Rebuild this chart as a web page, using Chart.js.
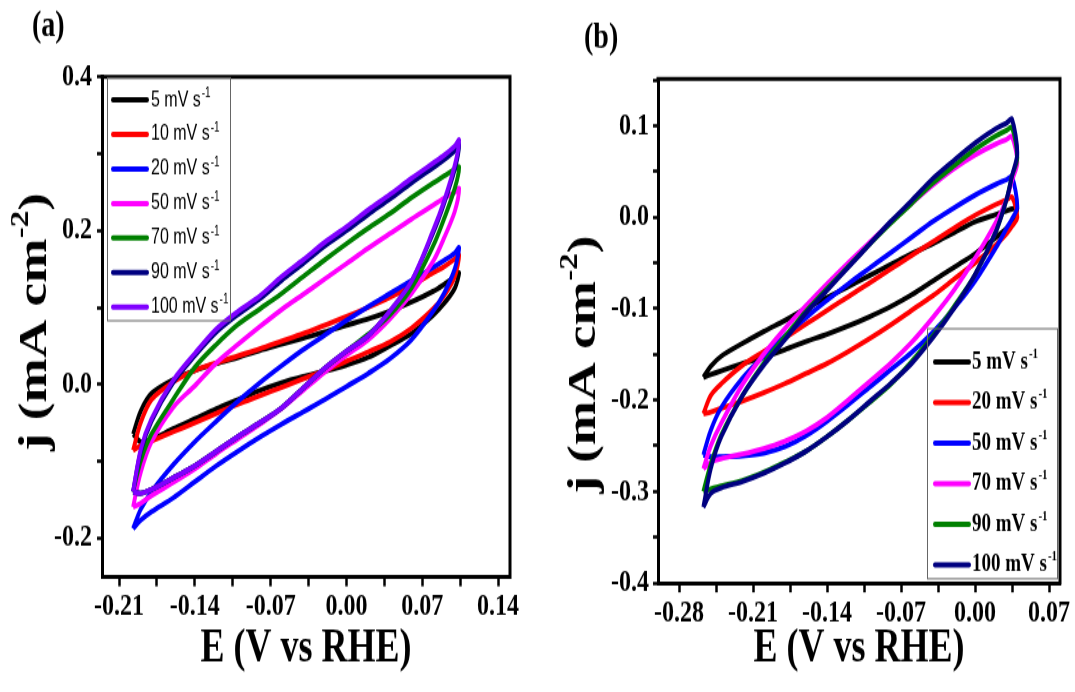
<!DOCTYPE html>
<html><head><meta charset="utf-8">
<script src="https://cdn.jsdelivr.net/npm/chart.js@4.4.0/dist/chart.umd.min.js"></script>
<style>
html,body{margin:0;padding:0;background:#fff;}
#wrap{position:relative;width:1075px;height:692px;overflow:hidden;background:#fff;}
.panel{position:absolute;top:0;transform-origin:0 0;transform:scaleY(1.330769);}
canvas{display:block;}
</style></head><body>
<div id="wrap">
<div class="panel" style="left:0;width:540px;height:520px;"><canvas id="ca" width="540" height="520"></canvas></div>
<div class="panel" style="left:540px;width:535px;height:520px;"><canvas id="cb" width="535" height="520"></canvas></div>
</div>
<script>
// ---------- Panel (a) data ----------
const E_A = [-0.197,-0.19,-0.18,-0.16,-0.14,-0.12,-0.10,-0.08,-0.06,-0.04,-0.02,0,0.02,0.04,0.06,0.08,0.09,0.10,0.104];
const ratesA = [5,10,20,50,70,90,100];
const a5_up  = [-0.065,-0.035,-0.012,0.006,0.018,0.027,0.035,0.044,0.052,0.060,0.068,0.077,0.085,0.095,0.107,0.121,0.130,0.140,0.145];
const a5_dn  = [-0.065,-0.075,-0.072,-0.058,-0.045,-0.032,-0.020,-0.008,0.002,0.010,0.017,0.025,0.035,0.050,0.066,0.090,0.105,0.125,0.145];
const a10_up = [-0.086,-0.050,-0.020,0.003,0.018,0.028,0.037,0.046,0.056,0.066,0.077,0.088,0.100,0.113,0.128,0.145,0.153,0.163,0.168];
const a10_dn = [-0.086,-0.080,-0.074,-0.062,-0.050,-0.038,-0.026,-0.015,-0.004,0.007,0.018,0.030,0.042,0.055,0.073,0.098,0.115,0.140,0.168];
const a20_up = [-0.188,-0.163,-0.140,-0.105,-0.075,-0.048,-0.022,0.002,0.024,0.045,0.064,0.083,0.101,0.118,0.135,0.152,0.161,0.171,0.178];
const a20_dn = [-0.188,-0.177,-0.166,-0.148,-0.127,-0.106,-0.087,-0.069,-0.052,-0.036,-0.020,-0.003,0.014,0.033,0.058,0.095,0.118,0.150,0.178];
const a50_up = [-0.160,-0.115,-0.075,-0.030,-0.002,0.028,0.052,0.075,0.097,0.117,0.137,0.157,0.177,0.196,0.215,0.233,0.242,0.250,0.255];
const a50_dn = [-0.160,-0.155,-0.145,-0.128,-0.110,-0.090,-0.071,-0.052,-0.032,-0.008,0.016,0.038,0.058,0.085,0.118,0.160,0.190,0.225,0.255];
const a70_up = [-0.140,-0.100,-0.065,-0.020,0.022,0.052,0.078,0.098,0.118,0.140,0.162,0.183,0.203,0.222,0.243,0.262,0.271,0.280,0.283];
const a70_dn = [-0.140,-0.142,-0.137,-0.122,-0.106,-0.087,-0.068,-0.050,-0.031,-0.005,0.021,0.043,0.065,0.090,0.125,0.180,0.215,0.255,0.283];
const a90_up = [-0.140,-0.088,-0.048,0.002,0.037,0.068,0.091,0.111,0.135,0.157,0.180,0.200,0.221,0.241,0.262,0.282,0.292,0.304,0.312];
const a90_dn = [-0.140,-0.142,-0.137,-0.122,-0.106,-0.087,-0.068,-0.050,-0.031,-0.005,0.021,0.043,0.063,0.095,0.134,0.197,0.235,0.280,0.312];
const a100_up= [-0.140,-0.085,-0.045,0.005,0.040,0.072,0.095,0.115,0.140,0.162,0.185,0.205,0.227,0.247,0.268,0.288,0.298,0.310,0.318];
const a100_dn= [-0.140,-0.142,-0.137,-0.122,-0.106,-0.087,-0.068,-0.050,-0.031,-0.005,0.021,0.043,0.063,0.095,0.134,0.200,0.238,0.285,0.318];
const colorsA = ['#000000','#ff0000','#0000ff','#ff00ff','#008000','#000080','#8000ff'];
const xMajorA = [-0.21,-0.14,-0.07,0,0.07,0.14];
const xLabelsA = ['-0.21','-0.14','-0.07','0.00','0.07','0.14'];
const xMinorA = [-0.175,-0.105,-0.035,0.035,0.105];
const yMajorA = [-0.2,0,0.2,0.4];
const yLabelsA = ['-0.2','0.0','0.2','0.4'];
const yMinorA = [-0.1,0.1,0.3];

// ---------- Panel (b) data ----------
const E_B = [-0.257,-0.25,-0.24,-0.22,-0.20,-0.18,-0.16,-0.14,-0.12,-0.10,-0.08,-0.06,-0.04,-0.02,0,0.02,0.03,0.035,0.04];
const ratesB = [5,20,50,70,90,100];
const b5_up  = [-0.175,-0.163,-0.152,-0.138,-0.125,-0.113,-0.100,-0.088,-0.076,-0.064,-0.052,-0.040,-0.029,-0.017,-0.005,0.003,0.007,0.009,0.010];
const b5_dn  = [-0.175,-0.172,-0.168,-0.160,-0.153,-0.145,-0.136,-0.128,-0.119,-0.109,-0.098,-0.085,-0.070,-0.055,-0.040,-0.022,-0.012,-0.005,0.010];
const b20_up = [-0.215,-0.195,-0.182,-0.162,-0.147,-0.132,-0.117,-0.102,-0.087,-0.072,-0.057,-0.042,-0.027,-0.012,0.002,0.014,0.019,0.022,0.000];
const b20_dn = [-0.215,-0.213,-0.209,-0.201,-0.192,-0.182,-0.171,-0.160,-0.147,-0.133,-0.118,-0.102,-0.086,-0.068,-0.050,-0.030,-0.018,-0.010,0.000];
const b50_up = [-0.260,-0.233,-0.208,-0.176,-0.152,-0.130,-0.110,-0.091,-0.073,-0.056,-0.039,-0.022,-0.005,0.010,0.024,0.036,0.041,0.044,0.011];
const b50_dn = [-0.260,-0.262,-0.262,-0.261,-0.258,-0.251,-0.239,-0.223,-0.205,-0.186,-0.167,-0.148,-0.126,-0.100,-0.070,-0.033,-0.012,-0.002,0.011];
const b70_up = [-0.275,-0.250,-0.225,-0.183,-0.150,-0.122,-0.097,-0.073,-0.050,-0.028,-0.006,0.015,0.035,0.053,0.068,0.080,0.085,0.088,0.060];
const b70_dn = [-0.275,-0.268,-0.264,-0.259,-0.253,-0.245,-0.234,-0.219,-0.200,-0.180,-0.160,-0.137,-0.110,-0.080,-0.045,-0.005,0.020,0.040,0.060];
const b90_up = [-0.300,-0.270,-0.238,-0.195,-0.160,-0.131,-0.103,-0.078,-0.054,-0.030,-0.007,0.015,0.037,0.056,0.074,0.089,0.095,0.098,0.065];
const b90_dn = [-0.300,-0.297,-0.294,-0.288,-0.279,-0.268,-0.256,-0.240,-0.222,-0.203,-0.183,-0.158,-0.130,-0.098,-0.063,-0.015,0.020,0.045,0.065];
const b100_up= [-0.317,-0.275,-0.240,-0.195,-0.162,-0.134,-0.105,-0.080,-0.055,-0.030,-0.005,0.018,0.042,0.062,0.081,0.097,0.103,0.107,0.070];
const b100_dn= [-0.317,-0.302,-0.296,-0.289,-0.280,-0.269,-0.256,-0.240,-0.222,-0.202,-0.182,-0.160,-0.132,-0.100,-0.063,-0.015,0.020,0.045,0.070];
const colorsB = ['#000000','#ff0000','#0000ff','#ff00ff','#008000','#000080'];
const xMajorB = [-0.28,-0.21,-0.14,-0.07,0,0.07];
const xLabelsB = ['-0.28','-0.21','-0.14','-0.07','0.00','0.07'];
const xMinorB = [-0.245,-0.175,-0.105,-0.035,0.035];
const yMajorB = [-0.4,-0.3,-0.2,-0.1,0,0.1];
const yLabelsB = ['-0.4','-0.3','-0.2','-0.1','0.0','0.1'];
const yMinorB = [-0.35,-0.25,-0.15,-0.05,0.05,0.15];

// ---------- helpers ----------
const SERIF = "'Liberation Serif', 'Times New Roman', 'DejaVu Serif', serif";
const SANS = "'Liberation Sans', Arial, 'DejaVu Sans', sans-serif";

function loop(E, up, dn) {
  const pts = E.map((e, i) => ({x: e, y: up[i]}));
  for (let i = E.length - 2; i >= 0; i--) pts.push({x: E[i], y: dn[i]});
  return pts;
}
function makeDatasets(E, rates, ups, dns, colors) {
  return rates.map((r, i) => ({
    label: r + ' mV s⁻¹',
    data: loop(E, ups[i], dns[i]),
    borderColor: colors[i],
    backgroundColor: colors[i],
    borderWidth: 3.9,
    pointRadius: 0,
    showLine: true,
    fill: false,
    tension: 0.3,
    order: rates.length - i
  }));
}
function labelFor(majors, labels) {
  return (v) => {
    const k = majors.findIndex(m => Math.abs(m - v) < 1e-9);
    return k >= 0 ? labels[k] : '';
  };
}

const framePlugin = {
  id: 'frame',
  afterDatasetsDraw(chart) {
    const {ctx, chartArea: a} = chart;
    ctx.save();
    ctx.strokeStyle = '#000'; ctx.lineWidth = 3; ctx.lineCap = 'square';
    ctx.beginPath();
    ctx.moveTo(a.left, a.top); ctx.lineTo(a.right, a.top); ctx.lineTo(a.right, a.bottom);
    ctx.stroke();
    ctx.restore();
  }
};
const legendPlugin = {
  id: 'cvLegend',
  afterDatasetsDraw(chart, args, o) {
    if (!o || !o.box) return;
    const ctx = chart.ctx;
    ctx.save();
    ctx.strokeStyle = o.borderColor; ctx.lineWidth = 1;
    ctx.strokeRect(o.box[0] + 0.5, o.box[1] + 0.5, o.box[2], o.box[3]);
    chart.data.datasets.forEach((ds, i) => {
      const y = o.y0 + i * o.dy;
      ctx.strokeStyle = ds.borderColor; ctx.lineWidth = o.lineWidth; ctx.lineCap = 'round';
      ctx.beginPath(); ctx.moveTo(o.x0, y); ctx.lineTo(o.x1, y); ctx.stroke();
      const base = ds.label.replace('⁻¹', '');
      ctx.fillStyle = '#000'; ctx.textBaseline = 'middle'; ctx.textAlign = 'left';
      ctx.font = o.font; ctx.fillText(base, o.tx, y);
      const w = ctx.measureText(base).width;
      ctx.font = o.supFont; ctx.fillText('-1', o.tx + w + o.supDx, y - o.supDy);
    });
    ctx.restore();
  }
};
const panelLabelPlugin = {
  id: 'panelLabel',
  afterDraw(chart, args, o) {
    if (!o || !o.text) return;
    const ctx = chart.ctx;
    ctx.save();
    ctx.font = o.font; ctx.fillStyle = '#000'; ctx.textBaseline = 'middle'; ctx.textAlign = 'left';
    ctx.fillText(o.text, o.x, o.y);
    ctx.restore();
  }
};
// y-axis title with a true superscript, rotated
const yTitlePlugin = {
  id: 'yTitle',
  afterDraw(chart, args, o) {
    if (!o || !o.parts) return;
    const ctx = chart.ctx;
    ctx.save();
    ctx.translate(o.x, o.y);
    ctx.rotate(-Math.PI / 2);
    ctx.fillStyle = '#000'; ctx.textBaseline = 'middle'; ctx.textAlign = 'left';
    const fMain = 'bold ' + o.size + 'px ' + SERIF;
    const fSup = 'bold ' + Math.round(o.size * 0.62) + 'px ' + SERIF;
    ctx.font = fMain; const w1 = ctx.measureText(o.parts[0]).width; const w3 = ctx.measureText(o.parts[2]).width;
    ctx.font = fSup; const w2 = ctx.measureText(o.parts[1]).width;
    let x = -(w1 + w2 + w3) / 2;
    ctx.font = fMain; ctx.fillText(o.parts[0], x, 0); x += w1;
    ctx.font = fSup; ctx.fillText(o.parts[1], x, -o.size * 0.36); x += w2;
    ctx.font = fMain; ctx.fillText(o.parts[2], x, 0);
    ctx.restore();
  }
};

function makeChart(id, p) {
  const tickFont = {family: SERIF, size: 24, weight: 'bold', lineHeight: 1.2};
  return new Chart(document.getElementById(id), {
    type: 'scatter',
    data: {datasets: p.datasets},
    plugins: [framePlugin, legendPlugin, panelLabelPlugin, yTitlePlugin],
    options: {
      responsive: false, animation: false, devicePixelRatio: 1,
      layout: {padding: {left: 0, top: p.top, right: p.right, bottom: 0}},
      plugins: {
        legend: {display: false}, tooltip: {enabled: false}, title: {display: false},
        cvLegend: p.legend,
        panelLabel: p.label,
        yTitle: p.yTitle
      },
      scales: {
        x: {
          type: 'linear', min: p.xMin, max: p.xMax,
          afterBuildTicks: s => { s.ticks = p.xMajor.concat(p.xMinor).sort((a, b) => a - b).map(v => ({value: v})); },
          afterFit: s => { s.height = p.xH; },
          ticks: {callback: labelFor(p.xMajor, p.xLabels), font: tickFont, color: '#000', padding: 1, autoSkip: false, maxRotation: 0},
          grid: {display: true, drawOnChartArea: false, drawTicks: true, tickLength: 7, tickWidth: 2.5, tickColor: '#000'},
          border: {display: true, width: 3, color: '#000'},
          title: {display: true, text: 'E (V vs RHE)', color: '#000', font: {family: SERIF, size: 36, weight: 'bold', lineHeight: 1}, padding: {top: 0, bottom: 14}}
        },
        y: {
          type: 'linear', min: p.yMin, max: p.yMax,
          afterBuildTicks: s => { s.ticks = p.yMajor.concat(p.yMinor).sort((a, b) => a - b).map(v => ({value: v})); },
          afterFit: s => { s.width = p.yW; },
          ticks: {callback: labelFor(p.yMajor, p.yLabels), font: tickFont, color: '#000', padding: p.yPad, autoSkip: false},
          grid: {display: true, drawOnChartArea: false, drawTicks: true, tickLength: 5, tickWidth: 2.5, tickColor: '#000'},
          border: {display: true, width: 3, color: '#000'},
          title: {display: false}
        }
      }
    }
  });
}

makeChart('ca', {
  datasets: makeDatasets(E_A, ratesA, [a5_up, a10_up, a20_up, a50_up, a70_up, a90_up, a100_up], [a5_dn, a10_dn, a20_dn, a50_dn, a70_dn, a90_dn, a100_dn], colorsA),
  top: 57.86, right: 30, xH: 86.42, yW: 102, yPad: 5,
  xMin: -0.2257, xMax: 0.151, yMin: -0.251, yMax: 0.4,
  xMajor: xMajorA, xLabels: xLabelsA, xMinor: xMinorA,
  yMajor: yMajorA, yLabels: yLabelsA, yMinor: yMinorA,
  legend: {box: [107, 57.9, 123, 182.6], borderColor: '#666', x0: 113, x1: 147, lineWidth: 4, tx: 151, y0: 75.1, dy: 25.93,
           font: '16px ' + SANS, supFont: '10px ' + SANS, supDx: 1, supDy: 5},
  label: {text: '(a)', font: 'bold 28px ' + SERIF, x: 32, y: 19.5},
  yTitle: {parts: ['j (mA cm', '-2', ')'], size: 40, x: 36, y: 242}
});
makeChart('cb', {
  datasets: makeDatasets(E_B, ratesB, [b5_up, b20_up, b50_up, b70_up, b90_up, b100_up], [b5_dn, b20_dn, b50_dn, b70_dn, b90_dn, b100_dn], colorsB),
  top: 59.36, right: 15, xH: 81.9, yW: 118, yPad: 4,
  xMin: -0.2999, xMax: 0.0804, yMin: -0.4, yMax: 0.151,
  xMajor: xMajorB, xLabels: xLabelsB, xMinor: xMinorB,
  yMajor: yMajorB, yLabels: yLabelsB, yMinor: yMinorB,
  legend: {box: [387, 246.5, 130, 187.9], borderColor: '#666', x0: 395, x1: 429, lineWidth: 4, tx: 432, y0: 272, dy: 30.5,
           font: 'bold 19px ' + SERIF, supFont: 'bold 11px ' + SERIF, supDx: 1, supDy: 6},
  label: {text: '(b)', font: 'bold 28px ' + SERIF, x: 44, y: 28.6},
  yTitle: {parts: ['j (mA cm', '-2', ')'], size: 40, x: 45, y: 274}
});
</script>
</body></html>
